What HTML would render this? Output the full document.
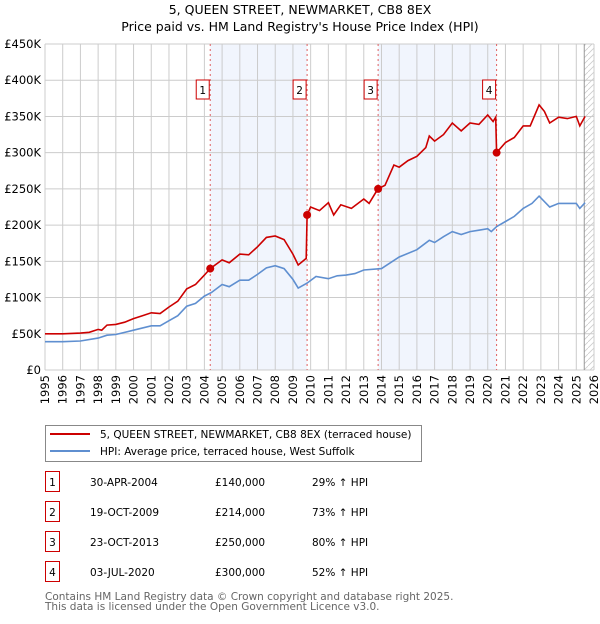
<!DOCTYPE html>
<html><head><meta charset="utf-8"><style>
body{margin:0;background:#fff;font-family:"DejaVu Sans","Liberation Sans",sans-serif;}
svg text{font-family:"DejaVu Sans","Liberation Sans",sans-serif;}
</style></head><body>
<svg id="c" width="600" height="620" xmlns="http://www.w3.org/2000/svg">
<defs><pattern id="h" width="6" height="6" patternUnits="userSpaceOnUse"><path d="M0,6 L6,0" stroke="#ccc" stroke-width="0.8"/></pattern></defs>
<text x="300" y="14" text-anchor="middle" font-size="12.5">5, QUEEN STREET, NEWMARKET, CB8 8EX</text>
<text x="300" y="31" text-anchor="middle" font-size="12.5">Price paid vs. HM Land Registry's House Price Index (HPI)</text>
<g id="plot"></g>
<g>
<rect x="45.5" y="425.5" width="376" height="36" fill="#fff" stroke="#888"/>
<line x1="50" y1="434" x2="90" y2="434" stroke="#cc0000" stroke-width="2"/>
<text x="100" y="438" font-size="10.5">5, QUEEN STREET, NEWMARKET, CB8 8EX (terraced house)</text>
<line x1="50" y1="451" x2="90" y2="451" stroke="#5f8fd0" stroke-width="2"/>
<text x="100" y="455" font-size="10.5">HPI: Average price, terraced house, West Suffolk</text>
</g>
<g id="table" font-size="10.5"></g>
<text x="45" y="600" font-size="10.5" fill="#666">Contains HM Land Registry data © Crown copyright and database right 2025.</text>
<text x="45" y="610" font-size="10.5" fill="#666">This data is licensed under the Open Government Licence v3.0.</text>
</svg>
<script>
const yTicks=[0,50,100,150,200,250,300,350,400,450];
const yearTicks=[1995,1996,1997,1998,1999,2000,2001,2002,2003,2004,2005,2006,2007,2008,2009,2010,2011,2012,2013,2014,2015,2016,2017,2018,2019,2020,2021,2022,2023,2024,2025,2026];
const hpiT=[1995,1996,1997,1998,1998.5,1999,2000,2001,2001.5,2002,2002.5,2003,2003.5,2004,2004.4,2005,2005.4,2006,2006.5,2007,2007.5,2008,2008.5,2009,2009.3,2009.8,2010.3,2011,2011.5,2012,2012.5,2013,2014,2015,2016,2016.7,2017,2017.5,2018,2018.5,2019,2019.5,2020,2020.2,2020.5,2021,2021.5,2022,2022.5,2022.9,2023.5,2024,2025,2025.2,2025.5];
const hpiV=[39,39,40,44,48,49,55,61,61,68,75,88,92,102,107,118,115,124,124,132,141,144,140,125,113,120,129,126,130,131,133,138,140,156,166,179,176,184,191,187,191,193,195,191,198,205,212,223,230,240,225,230,230,223,231];
const ppT=[1995,1996,1997,1997.5,1998,1998.2,1998.5,1999,1999.5,2000,2000.5,2001,2001.5,2002,2002.5,2003,2003.5,2004,2004.33,2005,2005.4,2006,2006.5,2007,2007.5,2008,2008.5,2009,2009.3,2009.75,2009.8,2010,2010.5,2011,2011.3,2011.7,2012.3,2013,2013.3,2013.8,2014.2,2014.7,2015,2015.5,2016,2016.5,2016.7,2017,2017.5,2018,2018.5,2019,2019.5,2020,2020.3,2020.45,2020.5,2021,2021.5,2022,2022.4,2022.9,2023.2,2023.5,2024,2024.5,2025,2025.2,2025.5];
const ppV=[50,50,51,52,56,55,62,63,66,71,75,79,78,87,95,112,118,131,140,152,148,160,159,170,183,185,180,160,145,154,214,225,220,231,214,228,223,236,230,250,255,283,280,289,295,307,323,316,325,341,330,341,339,352,343,349,300,314,321,337,337,366,357,341,349,347,350,337,350];
const saleLabels=["1","2","3","4"];
const saleT=[2004.33,2009.8,2013.81,2020.5];
const saleV=[140,214,250,300];
const saleDates=["30-APR-2004","19-OCT-2009","23-OCT-2013","03-JUL-2020"];
const salePrices=["£140,000","£214,000","£250,000","£300,000"];
const saleHpi=["29% ↑ HPI","73% ↑ HPI","80% ↑ HPI","52% ↑ HPI"];
const NS="http://www.w3.org/2000/svg";
const X0=45,X1=594,Y0=370,Y1=44;
const x=t=>X0+(t-1995)/31*(X1-X0);
const y=v=>Y0-v/450*(Y0-Y1);
const plot=document.getElementById('plot');
function mk(tag,at,parent){const e=document.createElementNS(NS,tag);for(const k in at)e.setAttribute(k,at[k]);(parent||plot).appendChild(e);return e;}
let r;
r=mk('rect',{x:x(saleT[0]),y:Y1,width:x(saleT[1])-x(saleT[0]),height:Y0-Y1,fill:'#eef3fc',opacity:0.8});


r=mk('rect',{x:x(saleT[2]),y:Y1,width:x(saleT[3])-x(saleT[2]),height:Y0-Y1,fill:'#eef3fc',opacity:0.8});


r=mk('rect',{x:x(2025.45),y:Y1,width:X1-x(2025.45),height:Y0-Y1,fill:'url(#h)'});


yTicks.forEach(v=>{const l=mk('line',{x1:X0,x2:X1,y1:y(v),y2:y(v),stroke:'#ccc'});


const t=mk('text',{x:X0-4,y:y(v)+4,'text-anchor':'end','font-size':'11.5'});t.textContent=v==0?'£0':'£'+v+'K';

});
yearTicks.forEach(yr=>{const l=mk('line',{x1:x(yr),x2:x(yr),y1:Y1,y2:Y0,stroke:'#ccc'});


const t=mk('text',{x:0,y:0,'font-size':'11.5','text-anchor':'end',transform:`translate(${x(yr)+4},${Y0+5}) rotate(-90)`});t.textContent=yr;

});
r=mk('line',{x1:x(2025.45),x2:x(2025.45),y1:Y1,y2:Y0,stroke:'#999'});


saleT.forEach((t,i)=>{const l=mk('line',{x1:x(t),x2:x(t),y1:Y1,y2:Y0,stroke:'#e06060','stroke-dasharray':'2,3','stroke-width':1});


const b=mk('rect',{x:x(t)-14,y:80,width:13,height:19,fill:'#fff',stroke:'#cc0000'});


const tx=mk('text',{x:x(t)-7.5,y:94,'text-anchor':'middle','font-size':'10.5'});tx.textContent=saleLabels[i];

});
const pth=(T,V)=>T.map((t,i)=>(i?'L':'M')+x(t).toFixed(1)+','+y(V[i]).toFixed(1)).join('');
r=mk('path',{d:pth(hpiT,hpiV),fill:'none',stroke:'#5f8fd0','stroke-width':1.6});


r=mk('path',{d:pth(ppT,ppV),fill:'none',stroke:'#cc0000','stroke-width':1.6});


saleT.forEach((t,i)=>{const c=mk('circle',{cx:x(t),cy:y(saleV[i]),r:4,fill:'#cc0000'});

});
const tb=document.getElementById('table');
saleLabels.forEach((s,i)=>{const yy=483+i*30;
const b=mk('rect',{x:45.5,y:yy-11.5,width:14,height:20,fill:'#fff',stroke:'#cc0000'},tb);


const vals=[[52.5,s,'middle'],[90,saleDates[i],'start'],[215,salePrices[i],'start'],[312,saleHpi[i],'start']];
vals.forEach(v=>{const t=mk('text',{x:v[0],y:yy+3,'text-anchor':v[2]},tb);t.textContent=v[1];

});});
</script>
</body></html>
